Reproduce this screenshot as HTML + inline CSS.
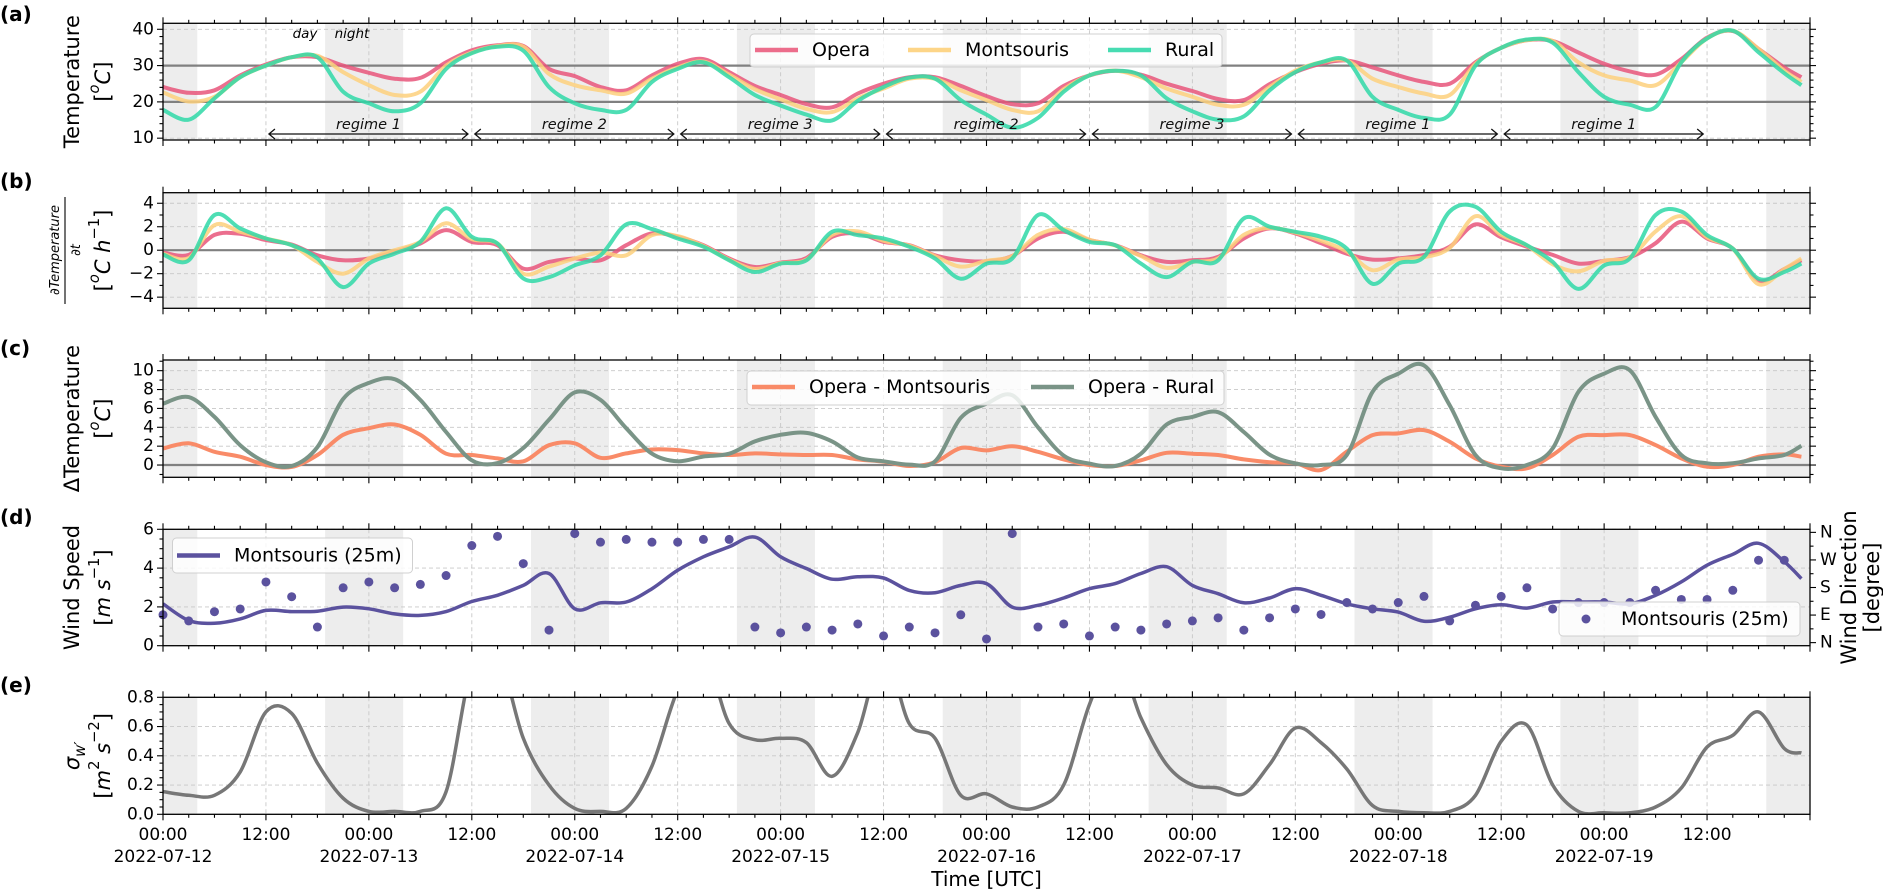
<!DOCTYPE html>
<html><head><meta charset="utf-8">
<style>
body{margin:0;background:#fff}
svg{display:block;font-family:"DejaVu Sans","Liberation Sans",sans-serif}
</style></head>
<body>
<svg id="chart" width="1883" height="892" xmlns="http://www.w3.org/2000/svg"></svg>
<script>
// ---------- data (hours since 2022-07-12 00:00 UTC) ----------
const hours=[0,3,6,9,12,15,18,21,24,27,30,33,36,39,42,45,48,51,54,57,60,63,66,69,72,75,78,81,84,87,90,93,96,99,102,105,108,111,114,117,120,123,126,129,132,135,138,141,144,147,150,153,156,159,162,165,168,171,174,177,180,183,186,189,191];
const tOpera=[24.1,22.5,23.2,27.3,30.3,32.3,32.3,30,28,26.4,26.6,30.9,34.2,35.6,35.4,29.1,27.1,24.1,23.2,27.3,30.5,31.8,
 28.2,24.4,21.9,19.4,18.5,22.3,25,26.8,26.8,24.4,21.6,19.4,19.6,24.4,27.3,28.6,27.5,25,23,20.8,20.5,24.9,
 28.2,30.5,31.4,29.5,27.3,25.5,25,30.9,34.9,37,36.8,33.6,30.5,28.4,27.5,31.8,37.7,39.5,34.6,29.5,26.8];
const tMontsouris=[22.6,20.1,21.4,26.8,30,32.3,32.7,28.2,24.6,21.9,22.8,30,33.6,35.4,35.2,27.7,24.6,23.2,22.3,26.4,29.5,31.1,
 27.5,23.5,20.7,18.1,17.2,21,23.7,26.4,26.4,23.2,20.5,17.8,17.4,23.5,27.3,28.6,26.8,23.7,21.4,19.2,19.2,24.1,
 28.6,30.9,31.4,26.4,24.1,22.3,21.9,30.5,34.9,37,36.8,30.9,27.3,25.9,24.6,30.9,37.5,39.6,34.6,28.6,25.5];
const tRural=[17.8,15.1,21,26.8,30,32.3,32.3,22.8,19.6,17.4,19.6,29.1,33.4,35.2,34.1,24.1,19.6,17.8,17.8,25.5,29.1,30.9,
 26.8,21.9,19,16.5,14.9,20.3,24.1,26.7,26.4,20.5,16.5,12.9,15.6,22.8,27.3,28.6,27.3,21,17.4,15.1,16,23.2,
 28.2,30.9,31.4,21.4,17.8,15.6,16.5,30,34.9,37.2,36.3,28.2,21.4,19.2,18.6,30.9,37.5,39.6,33.7,27.9,24.6];
const dOpera=[-0.2,-0.4,1.3,1.4,0.86,0.49,-0.43,-0.86,-0.71,-0.14,0.57,1.71,0.71,0.43,-1.57,-1.0,-0.71,-0.86,0.43,1.43,1.14,0.43,
 -0.71,-1.43,-1.06,-0.66,1.14,1.43,0.71,0.43,-0.43,-0.86,-0.94,-0.49,1,1.57,0.86,0.43,-0.43,-1,-0.86,-0.57,1,1.86,
 1.43,0.6,-0.3,-0.8,-0.7,-0.4,0.3,2.2,1.1,0.3,-0.4,-1.14,-0.9,-0.6,0.6,2.43,1.0,0.14,-2.6,-1.6,-0.86];
const dMontsouris=[-0.3,-0.66,2.14,1.57,1,0.43,-1,-2,-0.71,0,0.71,2.29,0.94,0.57,-2.0,-1.4,-0.71,-0.2,-0.43,1.29,1.2,0.37,
 -0.8,-1.6,-1.1,-0.8,1.3,1.6,0.8,0.4,-0.5,-1.4,-0.9,-0.5,1.3,1.8,0.9,0.4,-0.5,-1.5,-1,-0.7,1.3,1.9,
 1.5,0.8,-0.1,-1.7,-0.8,-0.6,0.2,2.9,1.3,0.4,-1.2,-1.8,-0.9,-0.6,1.6,2.9,1.1,0.14,-2.9,-1.6,-0.7];
const dRural=[-0.37,-0.86,3.0,1.86,1,0.43,-0.71,-3.14,-1.14,-0.29,0.71,3.57,1.14,0.57,-2.4,-2.3,-1.29,-0.43,2.2,1.8,1.0,0.3,
 -0.86,-1.86,-1.14,-0.86,1.57,1.29,1,0.29,-0.71,-2.43,-1.14,-0.71,3,1.71,0.71,0.43,-1.14,-2.29,-1,-0.86,2.71,2,
 1.57,1.14,0.14,-2.86,-1.14,-0.57,3.3,3.7,1.57,0.43,-1,-3.3,-1.3,-0.71,3,3.3,1.29,0.14,-2.43,-1.86,-1.14];
const diffOM=[1.76,2.3,1.4,0.88,0,-0.2,1.06,3.2,3.9,4.3,3.2,1.2,1.06,0.7,0.4,2.1,2.3,0.77,1.23,1.65,1.58,1.23,
 1.06,1.23,1.13,1.06,1.06,0.6,0.35,-0.1,0.3,1.8,1.55,2.0,1.4,0.6,0,-0.1,0.5,1.3,1.2,1.06,0.6,0.3,
 0.18,-0.53,1.41,3.17,3.35,3.7,2.46,0.7,-0.18,-0.35,1.06,2.99,3.17,3.17,2.11,0.7,-0.18,0,0.88,1.13,0.88];
const diffOR=[6.5,7.2,5.1,2.1,0.3,-0.1,1.9,7.0,8.7,9.1,6.9,3.5,0.5,0.2,1.8,4.8,7.7,6.9,3.9,1.2,0.4,0.9,
 1.2,2.5,3.2,3.4,2.5,0.8,0.4,0.05,0.4,5.0,6.5,7.4,4.0,1.0,0.15,-0.1,1.2,4.3,5.1,5.6,3.5,1.1,
 0.18,0,1.06,7.75,9.68,10.56,6.34,1.06,-0.35,0,1.76,7.75,9.68,10.04,5.1,1.06,0.18,0.18,0.7,1.06,2.04];
const windSpeed=[2.16,1.30,1.16,1.38,1.82,1.76,1.78,1.99,1.90,1.64,1.56,1.76,2.28,2.60,3.11,3.72,1.90,2.21,2.25,2.94,3.89,4.58,
 5.1,5.6,4.58,3.98,3.43,3.55,3.49,2.85,2.73,3.11,3.2,1.99,2.08,2.46,2.94,3.2,3.72,4.07,3.11,2.68,2.21,2.46,
 2.94,2.60,2.16,1.90,1.73,1.26,1.47,1.90,2.11,1.94,2.25,2.25,2.25,2.16,2.60,3.29,4.15,4.71,5.28,4.33,3.46];
const sigmaW=[0.155,0.13,0.13,0.29,0.7,0.69,0.35,0.11,0.02,0.02,0.02,0.155,1.0,1.1,0.52,0.2,0.04,0.02,0.04,0.33,0.85,1.1,
 0.62,0.51,0.52,0.49,0.26,0.56,1.1,0.62,0.52,0.13,0.14,0.05,0.05,0.2,0.75,1.1,0.66,0.34,0.2,0.18,0.14,0.34,
 0.59,0.49,0.31,0.06,0.02,0.01,0.02,0.13,0.5,0.61,0.2,0.02,0.01,0.01,0.05,0.18,0.46,0.54,0.7,0.45,0.42];
const dirHours=[0,3,6,9,12,15,18,21,24,27,30,33,36,39,42,45,48,51,54,57,60,63,66,69,72,75,78,81,84,87,90,93,96,99,102,105,108,111,114,117,120,123,126,129,132,135,138,141,144,147,150,153,156,159,162,165,168,171,174,177,180,183,186,189];
const windDir=[91,71,101,110,198,150,51,179,198,179,190,219,317,347,258,41,356,328,337,328,328,337,
 337,51,32,51,41,61,22,51,32,91,12,356,51,61,22,51,41,61,71,81,41,81,
 110,92,131,110,131,151,71,122,151,179,110,131,131,131,171,141,141,171,269,269];
const xTickHours=[0,12,24,36,48,60,72,84,96,108,120,132,144,156,168,180];
const xTickTimes=["00:00","12:00","00:00","12:00","00:00","12:00","00:00","12:00","00:00","12:00","00:00","12:00","00:00","12:00","00:00","12:00"];
const dateLabels=["2022-07-12","2022-07-13","2022-07-14","2022-07-15","2022-07-16","2022-07-17","2022-07-18","2022-07-19"];
const regimeNames=["regime 1","regime 2","regime 3","regime 2","regime 3","regime 1","regime 1"];
const dirTicks=[0,90,180,270,360];
const dirTickLabels=["N","E","S","W","N"];

// ---------- drawing ----------
const NS='http://www.w3.org/2000/svg';
const svg=document.getElementById('chart');
const X0=163,X1=1810,H0=0,H1=192;
function xs(h){return X0+(h-H0)/(H1-H0)*(X1-X0);}
function mk(tag,attrs,parent){const e=document.createElementNS(NS,tag);for(const k in attrs)e.setAttribute(k,attrs[k]);(parent||svg).appendChild(e);return e;}
function txt(s,attrs,parent){const e=mk('text',attrs,parent);e.textContent=s;return e;}
function fmt(v,dec){let s=dec?v.toFixed(dec):String(v);return s.replace('-','\u2212');}

const panels={
 a:{top:23.3,bot:140,lo:9.5,hi:41.65,major:[10,20,30,40],minor:2,dec:0,hlines:[20,30],right:true},
 b:{top:192.7,bot:308.3,lo:-4.95,hi:4.9,major:[-4,-2,0,2,4],minor:1,dec:0,hlines:[0],right:true},
 c:{top:360,bot:477.3,lo:-1.3,hi:11.13,major:[0,2,4,6,8,10],minor:1,dec:0,hlines:[0],right:true},
 d:{top:529.3,bot:645.7,lo:0,hi:6,major:[0,2,4,6],minor:0.5,dec:0,hlines:[],right:false},
 e:{top:697.3,bot:814.3,lo:0,hi:0.8,major:[0,0.2,0.4,0.6,0.8],minor:0.05,dec:1,hlines:[],right:false}
};
function yOf(p,v){return p.bot-(v-p.lo)/(p.hi-p.lo)*(p.bot-p.top);}

const defs=mk('defs',{});
for(const key in panels){
 const p=panels[key];
 const g=mk('g',{});
 
 
 p.g=g;
 const cp=mk('clipPath',{id:'clip-'+key},defs);
 mk('rect',{x:X0,y:p.top,width:X1-X0,height:p.bot-p.top},cp);
 for(let k=0;k<=8;k++){
  const s=Math.max(0,k*24-5.1),e=Math.min(192,k*24+4);
  if(e<=s)continue;
  const r=mk('rect',{x:xs(s),y:p.top,width:xs(e)-xs(s),height:p.bot-p.top,fill:'#ededed'},g);
  
  
 }
 for(let h=12;h<192;h+=12){
  const l=mk('line',{x1:xs(h),x2:xs(h),y1:p.top,y2:p.bot,stroke:'#c8c8c8','stroke-width':0.9,'stroke-dasharray':'4,3'},g);
  
  
 }
 p.major.forEach(v=>{
  const l=mk('line',{x1:X0,x2:X1,y1:yOf(p,v),y2:yOf(p,v),stroke:'#c8c8c8','stroke-width':0.9,'stroke-dasharray':'4,3'},g);
  
  
 });
 p.hlines.forEach(v=>{
  const l=mk('line',{x1:X0,x2:X1,y1:yOf(p,v),y2:yOf(p,v),stroke:'#808080','stroke-width':2.2},g);
  
  
 });
}

function smoothPath(pts){
 let d='M'+pts[0][0].toFixed(1)+' '+pts[0][1].toFixed(1);
 for(let i=0;i<pts.length-1;i++){
  const p0=pts[i-1]||pts[i],p1=pts[i],p2=pts[i+1],p3=pts[i+2]||p2;
  const c1x=p1[0]+(p2[0]-p0[0])/6,c1y=p1[1]+(p2[1]-p0[1])/6;
  const c2x=p2[0]-(p3[0]-p1[0])/6,c2y=p2[1]-(p3[1]-p1[1])/6;
  d+='C'+c1x.toFixed(1)+' '+c1y.toFixed(1)+' '+c2x.toFixed(1)+' '+c2y.toFixed(1)+' '+p2[0].toFixed(1)+' '+p2[1].toFixed(1);
 }
 return d;
}
function series(key,vals,xv,color,w,op,name){
 const p=panels[key];
 const pts=vals.map((v,i)=>[xs(xv[i]),yOf(p,v)]);
 const el=mk('path',{d:smoothPath(pts),fill:'none',stroke:color,'stroke-width':w,'stroke-opacity':op,'stroke-linejoin':'round','clip-path':'url(#clip-'+key+')'},p.g);
 
 
}
series('a',tOpera,hours,'#e8557a',4,0.85,'opera-temperature-line');
series('a',tMontsouris,hours,'#fdd07c',4,0.85,'montsouris-temperature-line');
series('a',tRural,hours,'#2fd8a7',4,0.85,'rural-temperature-line');
series('b',dOpera,hours,'#e8557a',4,0.85,'opera-rate-line');
series('b',dMontsouris,hours,'#fdd07c',4,0.85,'montsouris-rate-line');
series('b',dRural,hours,'#2fd8a7',4,0.85,'rural-rate-line');
series('c',diffOM,hours,'#f98b68',4,1,'opera-montsouris-line');
series('c',diffOR,hours,'#7a9487',4,1,'opera-rural-line');
series('d',windSpeed,hours,'#5b529e',3.5,1,'wind-speed-line');
series('e',sigmaW,hours,'#777777',3.5,1,'sigma-w-line');

const pd=panels.d;
function yDir(v){return pd.bot-(v+10)/380*(pd.bot-pd.top);}
windDir.forEach((v,i)=>{
 const c=mk('circle',{cx:xs(dirHours[i]),cy:yDir(v),r:4.5,fill:'#5b529e'},pd.g);
 
 
});

for(const key in panels){
 const p=panels[key];
 const g=p.g;
 const sp=mk('rect',{x:X0,y:p.top,width:X1-X0,height:p.bot-p.top,fill:'none',stroke:'#000','stroke-width':1.3},g);
 
 
 for(let h=0;h<=192;h+=3){
  const L=(h%12===0)?6:3.5;
  mk('line',{x1:xs(h),x2:xs(h),y1:p.bot,y2:p.bot+L,stroke:'#000','stroke-width':1.1},g);
  mk('line',{x1:xs(h),x2:xs(h),y1:p.top,y2:p.top-L,stroke:'#000','stroke-width':1.1},g);
 }
 const n=Math.round((p.hi-p.lo)/p.minor)+2;
 const start=Math.ceil(p.lo/p.minor)*p.minor;
 for(let i=0;i<n;i++){
  const v=+(start+i*p.minor).toFixed(4);
  if(v>p.hi+1e-6)break;
  const isMaj=p.major.some(m=>Math.abs(m-v)<1e-6);
  const L=isMaj?6:3.5,y=yOf(p,v);
  mk('line',{x1:X0,x2:X0-L,y1:y,y2:y,stroke:'#000','stroke-width':1.1},g);
  if(p.right)mk('line',{x1:X1,x2:X1+L,y1:y,y2:y,stroke:'#000','stroke-width':1.1},g);
 }
 p.major.forEach(v=>{
  const t=txt(fmt(v,p.dec),{x:X0-9,y:yOf(p,v),'text-anchor':'end','dominant-baseline':'central','font-size':17,fill:'#000'},g);
  
  
 });
}
for(let v=0;v<=360;v+=45){
 const L=(v%90===0)?6:3.5;
 mk('line',{x1:X1,x2:X1+L,y1:yDir(v),y2:yDir(v),stroke:'#000','stroke-width':1.1},pd.g);
}
dirTicks.forEach((v,i)=>{
 const t=txt(dirTickLabels[i],{x:X1+10,y:yDir(v),'dominant-baseline':'central','font-size':17},pd.g);
 
 
});

const pe=panels.e;
xTickHours.forEach((h,i)=>{
 const t=txt(xTickTimes[i],{x:xs(h),y:840,'text-anchor':'middle','font-size':17},pe.g);
 
 
});
dateLabels.forEach((s,i)=>{
 const t=txt(s,{x:xs(i*24),y:862,'text-anchor':'middle','font-size':17},pe.g);
 
 
});
const xl=txt('Time [UTC]',{x:(X0+X1)/2,y:886,'text-anchor':'middle','font-size':20});



const pa=panels.a;
regimeNames.forEach((nm,i)=>{
 const s=xs(12+24*i+0.35),e=xs(36+24*i-0.45),y=134;
 const ar=mk('path',{d:`M${s} ${y}H${e}M${s+6} ${y-5}L${s} ${y}L${s+6} ${y+5}M${e-6} ${y-5}L${e} ${y}L${e-6} ${y+5}`,fill:'none',stroke:'#111','stroke-width':1.3},pa.g);
 
 
 const t=txt(nm,{x:(s+e)/2,y:129,'text-anchor':'middle','font-size':14.5,'font-style':'italic',fill:'#111'},pa.g);
 
 
});
const dayT=txt('day',{x:305,y:38,'text-anchor':'middle','font-size':13.5,'font-style':'italic'},pa.g);


const nightT=txt('night',{x:352,y:38,'text-anchor':'middle','font-size':13.5,'font-style':'italic'},pa.g);



function legendBox(x,y,w,h,name){
 const r=mk('rect',{x:x,y:y,width:w,height:h,rx:4,fill:'#fff','fill-opacity':0.82,stroke:'#d0d0d0','stroke-width':1});
 
 
}
function legendLine(x,y,color,label,name){
 const l=mk('line',{x1:x,x2:x+43,y1:y,y2:y,stroke:color,'stroke-width':4.5});
 
 
 const t=txt(label,{x:x+57,y:y,'dominant-baseline':'central','font-size':19});
 
 
}
legendBox(750,34,472,33,'temperature-legend');
legendLine(755,50,'#ec6d8b','Opera','legend-opera');
legendLine(908,50,'#fdd588','Montsouris','legend-montsouris');
legendLine(1108,50,'#47dcb2','Rural','legend-rural');
legendBox(747,371,477,34,'difference-legend');
legendLine(752,387,'#f98b68','Opera - Montsouris','legend-opera-montsouris');
legendLine(1031,387,'#7a9487','Opera - Rural','legend-opera-rural');
legendBox(172.5,538,240,35,'wind-speed-legend');
legendLine(177,555.5,'#5b529e','Montsouris (25m)','legend-wind-speed');
legendBox(1559,602,241,34,'wind-direction-legend');
const ld=mk('circle',{cx:1586,cy:619,r:4.5,fill:'#5b529e'});


const ldt=txt('Montsouris (25m)',{x:1621,y:619,'dominant-baseline':'central','font-size':19});



[['(a)',14],['(b)',181],['(c)',348],['(d)',517],['(e)',685]].forEach(([s,y])=>{
 const t=txt(s,{x:0,y:y,'dominant-baseline':'central','font-size':20,'font-weight':'bold'});
 
 
});

function rotText(html,x,y,size,name){
 const t=mk('text',{x:x,y:y,'text-anchor':'middle','dominant-baseline':'central','font-size':size,transform:`rotate(-90 ${x} ${y})`});
 t.innerHTML=html;
 
 
 return t;
}
const degC='[<tspan font-style="italic" baseline-shift="super" font-size="70%">o</tspan><tspan font-style="italic">C</tspan>]';
rotText('Temperature',72,81.6,21,'y-axis-title-a');
rotText(degC,103,81.6,21,'y-axis-units-a');
rotText('<tspan font-style="italic">∂Temperature</tspan>',55,250,13,'y-axis-title-b-numerator');
const fb=mk('line',{x1:65,x2:65,y1:197,y2:304,stroke:'#000','stroke-width':1.1});


rotText('<tspan font-style="italic">∂t</tspan>',76,250,13,'y-axis-title-b-denominator');
rotText('[<tspan font-style="italic" baseline-shift="super" font-size="70%">o</tspan><tspan font-style="italic">C h</tspan><tspan baseline-shift="super" font-size="70%">−1</tspan>]',103,250.5,21,'y-axis-units-b');
rotText('ΔTemperature',72,418.6,21,'y-axis-title-c');
rotText(degC,103,418.6,21,'y-axis-units-c');
rotText('Wind Speed',72,587.5,21,'y-axis-title-d');
rotText('[<tspan font-style="italic">m s</tspan><tspan baseline-shift="super" font-size="70%">−1</tspan>]',103,587.5,21,'y-axis-units-d');
rotText('<tspan font-style="italic">σ</tspan><tspan font-style="italic" baseline-shift="sub" font-size="70%">w′</tspan>',72,755.8,21,'y-axis-title-e');
rotText('[<tspan font-style="italic">m</tspan><tspan baseline-shift="super" font-size="70%">2</tspan><tspan font-style="italic"> s</tspan><tspan baseline-shift="super" font-size="70%">−2</tspan>]',103,755.8,21,'y-axis-units-e');
rotText('Wind Direction',1849,587.5,21,'right-axis-title-d');
rotText('[degree]',1872,587.5,21,'right-axis-units-d');
</script>
</body></html>
